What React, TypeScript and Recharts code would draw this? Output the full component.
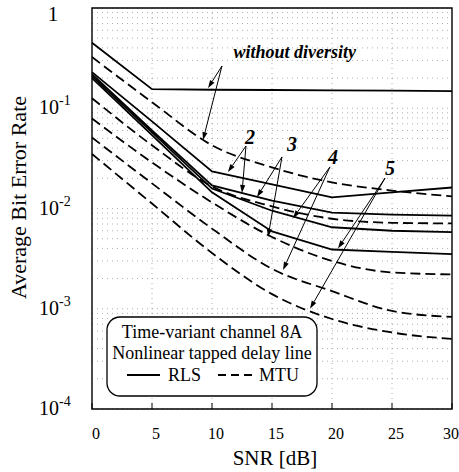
import {
  CartesianGrid,
  Legend,
  Line,
  LineChart,
  ReferenceArea,
  ReferenceDot,
  ReferenceLine,
  XAxis,
  YAxis,
} from "recharts";

const SERIF = '"Liberation Serif", "Times New Roman", Times, "DejaVu Serif", serif';

// SNR in dB
const snr = [0, 5, 10, 15, 20, 25, 30];

// RLS (solid), diversity order 1..5
const rls1 = [0.45, 0.155, 0.153, 0.152, 0.151, 0.15, 0.148];
const rls2 = [0.229, 0.074, 0.0234, 0.0174, 0.0129, 0.0145, 0.0162];
const rls3 = [0.219, 0.06, 0.017, 0.012, 0.0091, 0.0087, 0.0085];
const rls4 = [0.209, 0.0575, 0.0158, 0.0095, 0.0065, 0.006, 0.0058];
const rls5 = [0.2, 0.054, 0.0145, 0.0059, 0.0039, 0.0037, 0.0035];

// MTU (dashed), diversity order 1..5
const mtu1 = [0.324, 0.115, 0.0427, 0.0257, 0.0182, 0.0151, 0.0132];
const mtu2 = [0.126, 0.0427, 0.0166, 0.0105, 0.0079, 0.0072, 0.0071];
const mtu3 = [0.079, 0.0288, 0.0115, 0.0052, 0.003, 0.0023, 0.0022];
const mtu4 = [0.051, 0.0178, 0.0063, 0.0025, 0.0015, 0.00095, 0.00083];
const mtu5 = [0.035, 0.0112, 0.0036, 0.0014, 0.00079, 0.00058, 0.0005];

const xTicks = [0, 5, 10, 15, 20, 25, 30];
const yTicks = [1e-4, 1e-3, 1e-2, 1e-1, 1];

// minor log grid
const yGrid: number[] = [];
for (let e = -4; e < 0; e++) for (let m = 1; m < 10; m++) yGrid.push(m * 10 ** e);
yGrid.push(1);
const xGrid = [5, 10, 15, 20, 25];

const data = snr.map((s, i) => ({
  snr: s,
  rls1: rls1[i],
  rls2: rls2[i],
  rls3: rls3[i],
  rls4: rls4[i],
  rls5: rls5[i],
  mtu1: mtu1[i],
  mtu2: mtu2[i],
  mtu3: mtu3[i],
  mtu4: mtu4[i],
  mtu5: mtu5[i],
}));

const series = [
  { key: "rls1", dashed: false },
  { key: "rls2", dashed: false },
  { key: "rls3", dashed: false },
  { key: "rls4", dashed: false },
  { key: "rls5", dashed: false },
  { key: "mtu1", dashed: true },
  { key: "mtu2", dashed: true },
  { key: "mtu3", dashed: true },
  { key: "mtu4", dashed: true },
  { key: "mtu5", dashed: true },
];

// annotation text, in data coords
const notes = [
  { text: "without diversity", x: 16.9, y: 0.364, size: 18 },
  { text: "2", x: 13.17, y: 0.0516, size: 20 },
  { text: "3", x: 16.67, y: 0.044, size: 20 },
  { text: "4", x: 20.08, y: 0.0327, size: 20 },
  { text: "5", x: 24.83, y: 0.0254, size: 20 },
];

// arrows: [fromX, fromY, toX, toY]
const arrows = [
  [10.83, 0.264, 9.67, 0.159],
  [10.83, 0.264, 9.25, 0.0482],
  [12.83, 0.042, 11.33, 0.0231],
  [12.83, 0.042, 12.5, 0.0143],
  [15.83, 0.0327, 13.75, 0.013],
  [15.83, 0.0327, 14.67, 0.0052],
  [19.83, 0.026, 16.75, 0.008],
  [19.83, 0.026, 15.92, 0.00244],
  [24.42, 0.0201, 20.5, 0.004],
  [24.42, 0.0201, 18.17, 0.001],
];

const txt = { fontFamily: SERIF };

function ArrowShape(props: any) {
  const { x1, y1, x2, y2 } = props;
  const a = Math.atan2(y2 - y1, x2 - x1);
  const len = 8;
  const w = 2.6;
  const bx = x2 - len * Math.cos(a);
  const by = y2 - len * Math.sin(a);
  const p1 = `${bx + w * Math.sin(a)},${by - w * Math.cos(a)}`;
  const p2 = `${bx - w * Math.sin(a)},${by + w * Math.cos(a)}`;
  return (
    <g>
      <line x1={x1} y1={y1} x2={bx} y2={by} stroke="#000" strokeWidth={1} />
      <polygon points={`${x2},${y2} ${p1} ${p2}`} fill="#000" />
    </g>
  );
}

function XTick({ x, y, payload, index }: any) {
  const dx = index === xTicks.length - 1 ? -1 : 4;
  return (
    <g>
      <line x1={x} y1={y} x2={x} y2={y - 6} stroke="#000" strokeWidth={1} />
      <text x={x + dx} y={y + 30} textAnchor="middle" fontSize={16} style={txt} fill="#000">
        {payload.value}
      </text>
    </g>
  );
}

function YTick({ x, y, payload }: any) {
  const e = Math.round(Math.log10(payload.value));
  if (e === 0) {
    return (
      <text x={x - 39} y={y + 13} textAnchor="middle" fontSize={21} style={txt} fill="#000">
        1
      </text>
    );
  }
  return (
    <text x={x - 53} y={y + 6} fontSize={20} style={txt} fill="#000">
      10
      <tspan dy={-9} fontSize={14}>
        {String(e)}
      </tspan>
    </text>
  );
}

function YTitle({ viewBox }: any) {
  const cy = viewBox.y + viewBox.height / 2 - 11;
  return (
    <text
      x={26}
      y={cy}
      transform={`rotate(-90 26 ${cy})`}
      textAnchor="middle"
      fontSize={22}
      style={txt}
      fill="#000"
    >
      Average Bit Error Rate
    </text>
  );
}

function XTitle({ viewBox }: any) {
  const cx = viewBox.x + viewBox.width / 2 + 3;
  return (
    <text x={cx} y={465} textAnchor="middle" fontSize={21} style={txt} fill="#000">
      SNR [dB]
    </text>
  );
}

function LegendBox() {
  return (
    <svg width={212} height={81} style={{ display: "block" }}>
      <rect x={1} y={1} width={210} height={79} rx={13} fill="#fff" stroke="#000" strokeWidth={1.3} />
      <g fontSize={18} fill="#000" style={txt}>
        <text x={106} y={22} textAnchor="middle">
          Time-variant channel 8A
        </text>
        <text x={106} y={43} textAnchor="middle">
          Nonlinear tapped delay line
        </text>
        <line x1={21} y1={59} x2={54} y2={59} stroke="#000" strokeWidth={1.8} />
        <text x={62} y={65}>RLS</text>
        <line x1={112} y1={59} x2={147} y2={59} stroke="#000" strokeWidth={1.8} strokeDasharray="8 5" />
        <text x={153} y={65}>MTU</text>
      </g>
    </svg>
  );
}

export default function App() {
  return (
    <div
      style={{
        position: "absolute",
        left: 0,
        top: 0,
        width: 459,
        height: 472,
        background: "#fff",
        fontFamily: SERIF,
      }}
    >
      <LineChart
        width={459}
        height={472}
        data={data}
        margin={{ top: 8, right: 7, bottom: 0, left: 0 }}
        style={{ fontFamily: SERIF }}
      >
        <CartesianGrid
          stroke="#999"
          strokeWidth={0.8}
          strokeDasharray="1 4"
          horizontalValues={yGrid}
          verticalValues={xGrid}
        />
        <XAxis
          dataKey="snr"
          type="number"
          domain={[0, 30]}
          ticks={xTicks}
          interval={0}
          height={63}
          axisLine={false}
          tickLine={false}
          tickSize={0}
          tickMargin={0}
          tick={<XTick />}
          label={<XTitle />}
        />
        <YAxis
          scale="log"
          type="number"
          domain={[1e-4, 1]}
          ticks={yTicks}
          interval={0}
          allowDataOverflow
          width={92}
          axisLine={false}
          tickLine={false}
          tickSize={0}
          tickMargin={0}
          tick={<YTick />}
          label={<YTitle />}
        />
        <ReferenceArea x1={0} x2={30} y1={1e-4} y2={1} fill="none" stroke="#000" strokeWidth={1.4} />
        {series.map((s) => (
          <Line
            key={s.key}
            dataKey={s.key}
            type={s.dashed ? "monotone" : "linear"}
            stroke="#000"
            strokeWidth={1.8}
            strokeDasharray={s.dashed ? "10 5" : undefined}
            dot={false}
            activeDot={false}
            isAnimationActive={false}
          />
        ))}
        {arrows.map((a, i) => (
          <ReferenceLine
            key={`arrow-${i}`}
            segment={[
              { x: a[0], y: a[1] },
              { x: a[2], y: a[3] },
            ]}
            shape={ArrowShape}
          />
        ))}
        {notes.map((n) => (
          <ReferenceDot
            key={n.text}
            x={n.x}
            y={n.y}
            r={0}
            shape={(p: any) => (
              <text
                x={p.cx}
                y={p.cy + n.size * 0.33}
                textAnchor="middle"
                fontSize={n.size}
                fontWeight="bold"
                fontStyle="italic"
                style={txt}
                fill="#000"
              >
                {n.text}
              </text>
            )}
          />
        ))}
        <Legend
          layout="vertical"
          align="center"
          verticalAlign="middle"
          content={<LegendBox />}
          wrapperStyle={{ left: 106, top: 316, width: 212, height: 81 }}
        />
      </LineChart>
    </div>
  );
}
